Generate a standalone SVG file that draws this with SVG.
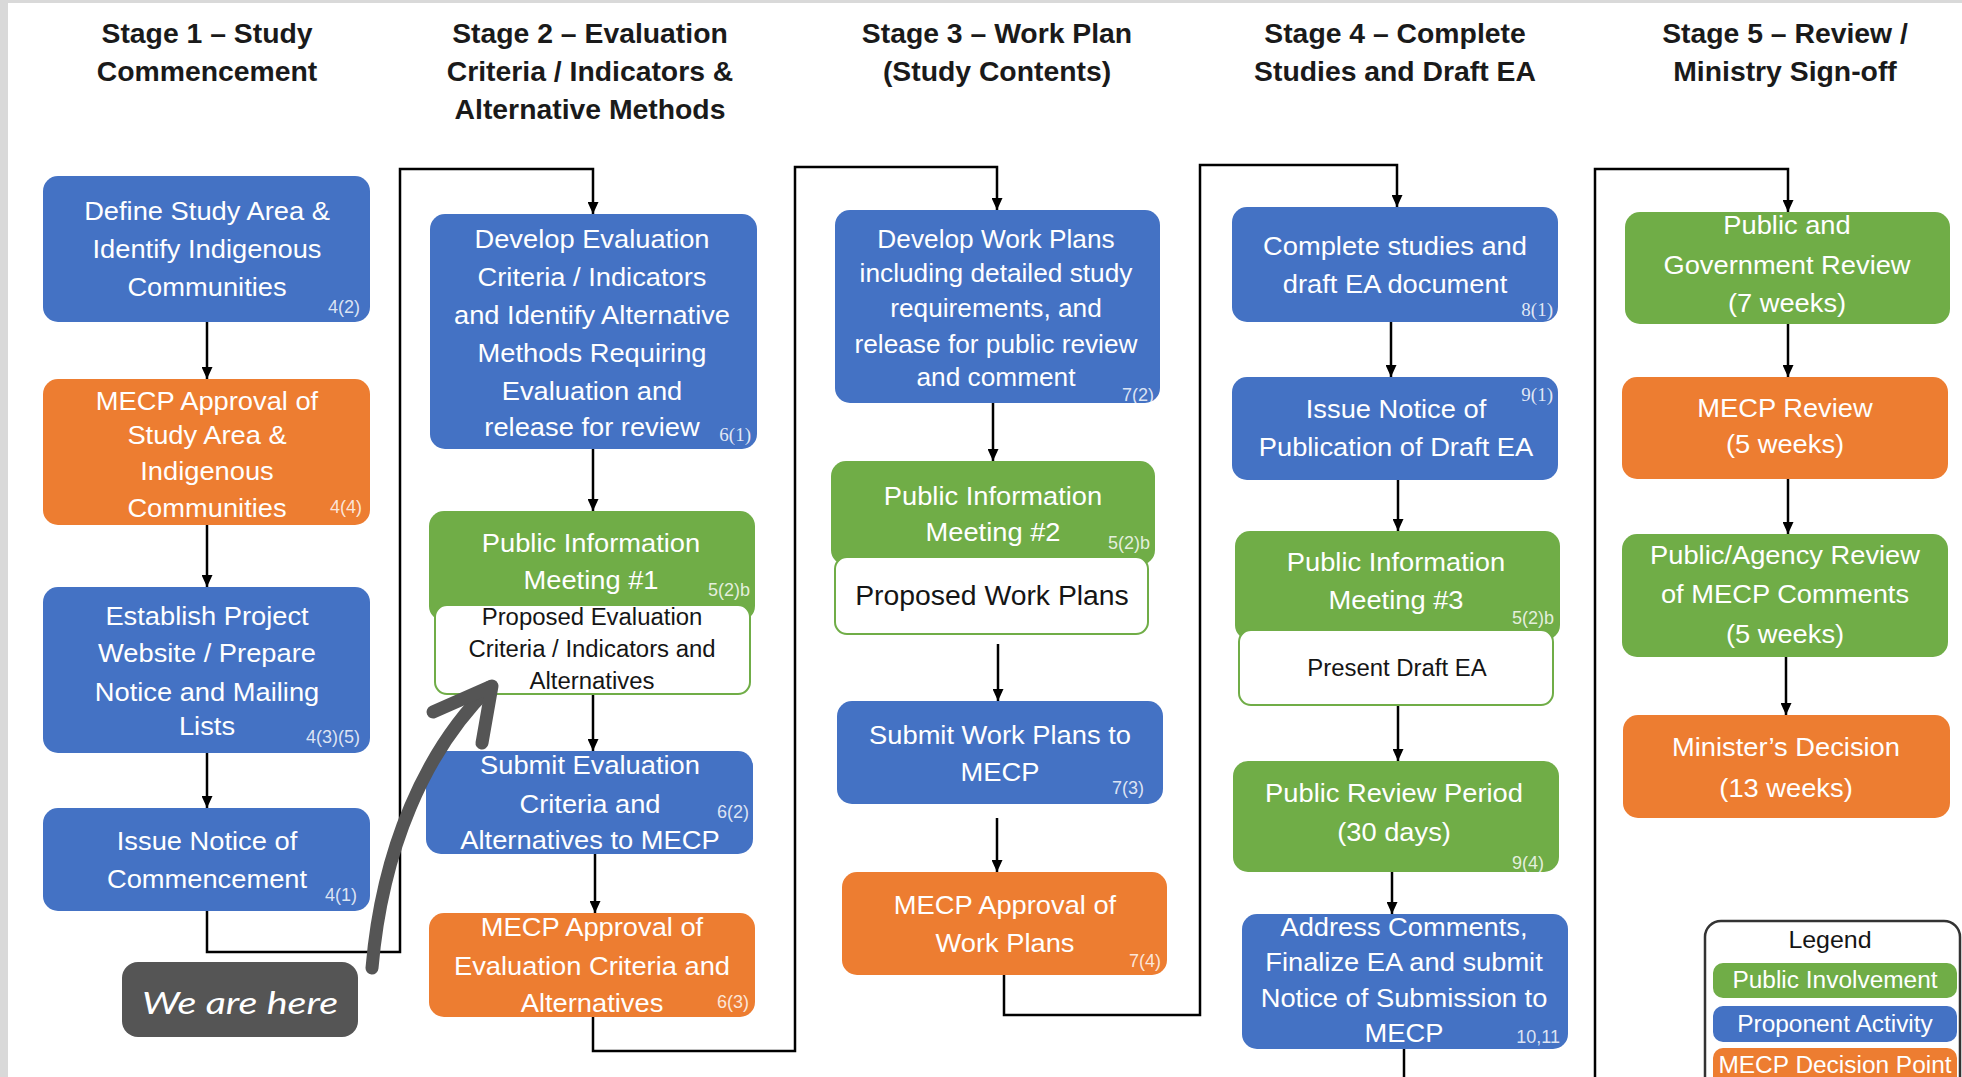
<svg xmlns="http://www.w3.org/2000/svg" width="1962" height="1077" viewBox="0 0 1962 1077">
<defs>
<style>
.b{fill:#4472C4}.o{fill:#ED7D31}.g{fill:#70AD47}
.w{fill:#fff;stroke:#70AD47;stroke-width:2}
.t{font-family:"Liberation Sans",Arial,sans-serif;font-size:26px;fill:#fff;text-anchor:middle}
.k{font-family:"Liberation Sans",Arial,sans-serif;font-size:23px;fill:#151515;text-anchor:middle}
.h{font-family:"Liberation Sans",Arial,sans-serif;font-size:27px;font-weight:bold;fill:#1a1a1a;text-anchor:middle}
.l{font-family:"Liberation Sans",Arial,sans-serif;font-size:18px;fill:#fff;fill-opacity:.82;text-anchor:end}
.ls{font-family:"Liberation Serif","Times New Roman",serif;font-size:19px;fill:#fff;fill-opacity:.85;text-anchor:end}
.c{fill:none;stroke:#000;stroke-width:2.5}
</style>
<marker id="ah" viewBox="0 0 12 11" refX="12" refY="5.5" markerWidth="12" markerHeight="11" markerUnits="userSpaceOnUse" orient="auto">
<path d="M0,0 L12,5.5 L0,11 z" fill="#000"/>
</marker>
</defs>
<rect x="0" y="0" width="1962" height="1077" fill="#fff"/>
<rect x="0" y="0" width="8" height="1077" fill="#d9d9d9"/>
<rect x="0" y="0" width="1962" height="3" fill="#d9d9d9"/>

<g id="titles">
<g transform="translate(207 0) scale(1.05 1)"><text class="h" x="0" y="43">Stage 1 – Study</text><text class="h" x="0" y="81">Commencement</text></g>
<g transform="translate(590 0) scale(1.05 1)"><text class="h" x="0" y="43">Stage 2 – Evaluation</text><text class="h" x="0" y="81">Criteria / Indicators &amp;</text><text class="h" x="0" y="119">Alternative Methods</text></g>
<g transform="translate(997 0) scale(1.05 1)"><text class="h" x="0" y="43">Stage 3 – Work Plan</text><text class="h" x="0" y="81">(Study Contents)</text></g>
<g transform="translate(1395 0) scale(1.05 1)"><text class="h" x="0" y="43">Stage 4 – Complete</text><text class="h" x="0" y="81">Studies and Draft EA</text></g>
<g transform="translate(1785 0) scale(1.05 1)"><text class="h" x="0" y="43">Stage 5 – Review /</text><text class="h" x="0" y="81">Ministry Sign-off</text></g>
</g>

<g id="connectors">
<path class="c" d="M207,322 V379" marker-end="url(#ah)"/>
<path class="c" d="M207,525 V587" marker-end="url(#ah)"/>
<path class="c" d="M207,753 V808" marker-end="url(#ah)"/>
<path class="c" d="M207,911 V952 H400 V169 H593 V214" marker-end="url(#ah)"/>
<path class="c" d="M593,449 V511" marker-end="url(#ah)"/>
<path class="c" d="M593,694 V751" marker-end="url(#ah)"/>
<path class="c" d="M595,854 V913" marker-end="url(#ah)"/>
<path class="c" d="M593,1017 V1051 H795 V167 H997 V210" marker-end="url(#ah)"/>
<path class="c" d="M993,403 V461" marker-end="url(#ah)"/>
<path class="c" d="M998,644 V701" marker-end="url(#ah)"/>
<path class="c" d="M997,818 V872" marker-end="url(#ah)"/>
<path class="c" d="M1004,975 V1015 H1200 V165 H1397 V207" marker-end="url(#ah)"/>
<path class="c" d="M1391,322 V377" marker-end="url(#ah)"/>
<path class="c" d="M1398,480 V531" marker-end="url(#ah)"/>
<path class="c" d="M1398,705 V761" marker-end="url(#ah)"/>
<path class="c" d="M1392,872 V914" marker-end="url(#ah)"/>
<path class="c" d="M1404,1049 V1077"/>
<path class="c" d="M1595,1077 V169 H1788 V212" marker-end="url(#ah)"/>
<path class="c" d="M1788,324 V377" marker-end="url(#ah)"/>
<path class="c" d="M1788,479 V534" marker-end="url(#ah)"/>
<path class="c" d="M1786,657 V715" marker-end="url(#ah)"/>
</g>

<g id="s1-define">
<rect class="b" x="43" y="176" width="327" height="146" rx="15"/>
<g transform="translate(207 0) scale(1.05 1)"><text class="t" x="0" y="220">Define Study Area &amp;</text><text class="t" x="0" y="258">Identify Indigenous</text><text class="t" x="0" y="296">Communities</text></g>
<text class="l" x="360" y="313">4(2)</text>
</g>
<g id="s1-approval">
<rect class="o" x="43" y="379" width="327" height="146" rx="15"/>
<g transform="translate(207 0) scale(1.05 1)"><text class="t" x="0" y="410">MECP Approval of</text><text class="t" x="0" y="444">Study Area &amp;</text><text class="t" x="0" y="480">Indigenous</text><text class="t" x="0" y="517">Communities</text></g>
<text class="l" x="362" y="513">4(4)</text>
</g>
<g id="s1-website">
<rect class="b" x="43" y="587" width="327" height="166" rx="15"/>
<g transform="translate(207 0) scale(1.05 1)"><text class="t" x="0" y="625">Establish Project</text><text class="t" x="0" y="662">Website / Prepare</text><text class="t" x="0" y="701">Notice and Mailing</text><text class="t" x="0" y="735">Lists</text></g>
<text class="l" x="360" y="743">4(3)(5)</text>
</g>
<g id="s1-notice">
<rect class="b" x="43" y="808" width="327" height="103" rx="15"/>
<g transform="translate(207 0) scale(1.05 1)"><text class="t" x="0" y="850">Issue Notice of</text><text class="t" x="0" y="888">Commencement</text></g>
<text class="l" x="357" y="901">4(1)</text>
</g>

<g id="s2-develop">
<rect class="b" x="430" y="214" width="327" height="235" rx="15"/>
<g transform="translate(592 0) scale(1.05 1)"><text class="t" x="0" y="248">Develop Evaluation</text><text class="t" x="0" y="286">Criteria / Indicators</text><text class="t" x="0" y="324">and Identify Alternative</text><text class="t" x="0" y="362">Methods Requiring</text><text class="t" x="0" y="400">Evaluation and</text><text class="t" x="0" y="436">release for review</text></g>
<text class="ls" x="751" y="441">6(1)</text>
</g>
<g id="s2-pim1">
<rect class="g" x="429" y="511" width="326" height="110" rx="15"/>
<g transform="translate(591 0) scale(1.05 1)"><text class="t" x="0" y="552">Public Information</text><text class="t" x="0" y="589">Meeting #1</text></g>
<text class="l" x="750" y="596">5(2)b</text>
<rect class="w" x="435" y="605" width="315" height="89" rx="12"/>
<g transform="translate(592 0) scale(1.04 1)"><text class="k" x="0" y="625">Proposed Evaluation</text><text class="k" x="0" y="657">Criteria / Indicators and</text><text class="k" x="0" y="689">Alternatives</text></g>
</g>
<g id="s2-submit">
<rect class="b" x="426" y="751" width="327" height="103" rx="15"/>
<g transform="translate(590 0) scale(1.05 1)"><text class="t" x="0" y="774">Submit Evaluation</text><text class="t" x="0" y="813">Criteria and</text><text class="t" x="0" y="849">Alternatives to MECP</text></g>
<text class="l" x="749" y="818">6(2)</text>
</g>
<g id="s2-approval">
<rect class="o" x="429" y="913" width="326" height="104" rx="15"/>
<g transform="translate(592 0) scale(1.05 1)"><text class="t" x="0" y="936">MECP Approval of</text><text class="t" x="0" y="975">Evaluation Criteria and</text><text class="t" x="0" y="1012">Alternatives</text></g>
<text class="l" x="749" y="1008">6(3)</text>
</g>

<g id="s3-develop">
<rect class="b" x="835" y="210" width="325" height="193" rx="15"/>
<g transform="translate(996 0) scale(1.05 1)"><text class="t" x="0" y="248" style="font-size:25px">Develop Work Plans</text><text class="t" x="0" y="282" style="font-size:25px">including detailed study</text><text class="t" x="0" y="317" style="font-size:25px">requirements, and</text><text class="t" x="0" y="353" style="font-size:25px">release for public review</text><text class="t" x="0" y="386" style="font-size:25px">and comment</text></g>
<text class="l" x="1154" y="401">7(2)</text>
</g>
<g id="s3-pim2">
<rect class="g" x="831" y="461" width="324" height="104" rx="15"/>
<g transform="translate(993 0) scale(1.05 1)"><text class="t" x="0" y="505">Public Information</text><text class="t" x="0" y="541">Meeting #2</text></g>
<text class="l" x="1150" y="549">5(2)b</text>
<rect class="w" x="835" y="557" width="313" height="77" rx="12"/>
<g transform="translate(992 0) scale(1.05 1)"><text class="k" x="0" y="605" style="font-size:27px">Proposed Work Plans</text></g>
</g>
<g id="s3-submit">
<rect class="b" x="837" y="701" width="326" height="103" rx="15"/>
<g transform="translate(1000 0) scale(1.05 1)"><text class="t" x="0" y="744">Submit Work Plans to</text><text class="t" x="0" y="781">MECP</text></g>
<text class="l" x="1144" y="794">7(3)</text>
</g>
<g id="s3-approval">
<rect class="o" x="842" y="872" width="325" height="103" rx="15"/>
<g transform="translate(1005 0) scale(1.05 1)"><text class="t" x="0" y="914">MECP Approval of</text><text class="t" x="0" y="952">Work Plans</text></g>
<text class="l" x="1161" y="967">7(4)</text>
</g>

<g id="s4-complete">
<rect class="b" x="1232" y="207" width="326" height="115" rx="15"/>
<g transform="translate(1395 0) scale(1.05 1)"><text class="t" x="0" y="255">Complete studies and</text><text class="t" x="0" y="293">draft EA document</text></g>
<text class="ls" x="1553" y="316">8(1)</text>
</g>
<g id="s4-notice">
<rect class="b" x="1232" y="377" width="326" height="103" rx="15"/>
<g transform="translate(1396 0) scale(1.05 1)"><text class="t" x="0" y="418">Issue Notice of</text><text class="t" x="0" y="456">Publication of Draft EA</text></g>
<text class="ls" x="1553" y="401">9(1)</text>
</g>
<g id="s4-pim3">
<rect class="g" x="1235" y="531" width="325" height="109" rx="15"/>
<g transform="translate(1396 0) scale(1.05 1)"><text class="t" x="0" y="571">Public Information</text><text class="t" x="0" y="609">Meeting #3</text></g>
<text class="l" x="1554" y="624">5(2)b</text>
<rect class="w" x="1239" y="630" width="314" height="75" rx="12"/>
<g transform="translate(1397 0) scale(1.04 1)"><text class="k" x="0" y="676">Present Draft EA</text></g>
</g>
<g id="s4-review">
<rect class="g" x="1233" y="761" width="326" height="111" rx="15"/>
<g transform="translate(1394 0) scale(1.05 1)"><text class="t" x="0" y="802">Public Review Period</text><text class="t" x="0" y="841">(30 days)</text></g>
<text class="l" x="1544" y="869">9(4)</text>
</g>
<g id="s4-address">
<rect class="b" x="1242" y="914" width="326" height="135" rx="15"/>
<g transform="translate(1404 0) scale(1.05 1)"><text class="t" x="0" y="936">Address Comments,</text><text class="t" x="0" y="971">Finalize EA and submit</text><text class="t" x="0" y="1007">Notice of Submission to</text><text class="t" x="0" y="1042">MECP</text></g>
<text class="l" x="1560" y="1043">10,11</text>
</g>

<g id="s5-public">
<rect class="g" x="1625" y="212" width="325" height="112" rx="15"/>
<g transform="translate(1787 0) scale(1.05 1)"><text class="t" x="0" y="234">Public and</text><text class="t" x="0" y="274">Government Review</text><text class="t" x="0" y="312">(7 weeks)</text></g>
</g>
<g id="s5-mecp">
<rect class="o" x="1622" y="377" width="326" height="102" rx="15"/>
<g transform="translate(1785 0) scale(1.05 1)"><text class="t" x="0" y="417">MECP Review</text><text class="t" x="0" y="453">(5 weeks)</text></g>
</g>
<g id="s5-agency">
<rect class="g" x="1622" y="534" width="326" height="123" rx="15"/>
<g transform="translate(1785 0) scale(1.05 1)"><text class="t" x="0" y="564">Public/Agency Review</text><text class="t" x="0" y="603">of MECP Comments</text><text class="t" x="0" y="643">(5 weeks)</text></g>
</g>
<g id="s5-decision">
<rect class="o" x="1623" y="715" width="327" height="103" rx="15"/>
<g transform="translate(1786 0) scale(1.05 1)"><text class="t" x="0" y="756">Minister’s Decision</text><text class="t" x="0" y="797">(13 weeks)</text></g>
</g>

<g id="legend">
<rect x="1705" y="921" width="255" height="190" rx="16" fill="#fff" stroke="#333" stroke-width="2.5"/>
<g transform="translate(1830 0) scale(1.04 1)"><text class="k" x="0" y="948" style="font-size:24px">Legend</text></g>
<rect class="g" x="1713" y="963" width="244" height="35" rx="10"/>
<rect class="b" x="1713" y="1006" width="244" height="36" rx="10"/>
<rect class="o" x="1713" y="1048" width="244" height="40" rx="10"/>
<g transform="translate(1835 0) scale(1.04 1)"><text class="t" x="0" y="988" style="font-size:23.5px">Public Involvement</text><text class="t" x="0" y="1032" style="font-size:23.5px">Proponent Activity</text><text class="t" x="0" y="1073" style="font-size:23.5px">MECP Decision Point</text></g>
</g>

<g id="we-are-here">
<rect x="122" y="962" width="236" height="75" rx="16" fill="#555"/>
<text x="240" y="1014" font-family="Lato, 'Liberation Sans', sans-serif" font-style="italic" font-size="31" fill="#fff" text-anchor="middle" textLength="196" lengthAdjust="spacingAndGlyphs">We are here</text>
<path d="M372,968 C382,850 425,750 490,687" fill="none" stroke="#555" stroke-width="13" stroke-linecap="round"/>
<path d="M433,712 L492,686 L482,743" fill="none" stroke="#555" stroke-width="13" stroke-linecap="round" stroke-linejoin="round"/>
</g>
</svg>
